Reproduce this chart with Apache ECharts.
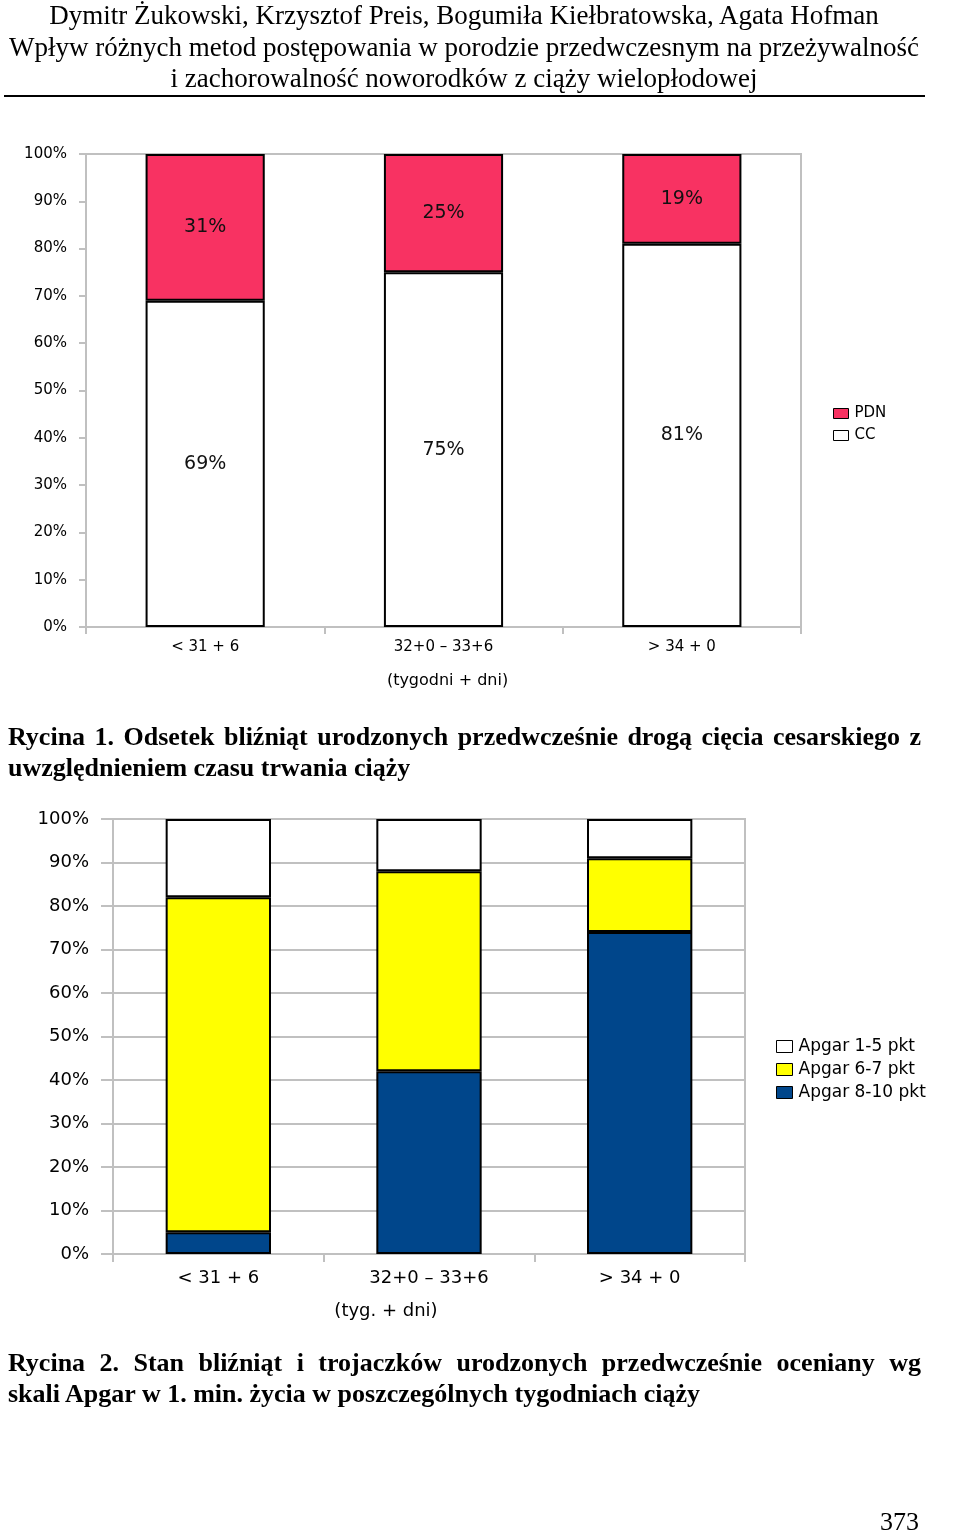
<!DOCTYPE html>
<html>
<head>
<meta charset="utf-8">
<script src="https://cdn.jsdelivr.net/npm/echarts@6.0.0/dist/echarts.min.js"></script>
<style>
  body { margin: 0; background: #fff; }
  #page { position: relative; width: 960px; height: 1538px; overflow: hidden; }
  #chart { position: absolute; left: 0; top: 0; width: 960px; height: 1538px; }
  .txt { position: absolute; font-family: "Liberation Serif", "Times New Roman", serif; color: #000; white-space: nowrap; }
  .head { left: 0; top: 0; width: 928px; text-align: center; font-size: 27px; line-height: 31.5px; }
  .rule { position: absolute; left: 4px; top: 95px; width: 921px; height: 2px; background: #000; }
  .cap { left: 8px; width: 913px; font-weight: bold; font-size: 26px; line-height: 31px; }
  .just { text-align: justify; text-align-last: justify; }
  .pnum { left: 880px; top: 1507px; font-size: 26px; }
</style>
</head>
<body>
<div id="page">
  <div id="chart"></div>
  <div class="txt head">Dymitr Żukowski, Krzysztof Preis, Bogumiła Kiełbratowska, Agata Hofman<br>Wpływ różnych metod postępowania w porodzie przedwczesnym na przeżywalność<br>i zachorowalność noworodków z ciąży wielopłodowej</div>
  <div class="rule"></div>
  <div class="txt cap just" style="top:721px">Rycina 1. Odsetek bliźniąt urodzonych przedwcześnie drogą cięcia cesarskiego z</div>
  <div class="txt cap" style="top:752px">uwzględnieniem czasu trwania ciąży</div>
  <div class="txt cap just" style="top:1347px">Rycina 2. Stan bliźniąt i trojaczków urodzonych przedwcześnie oceniany wg</div>
  <div class="txt cap" style="top:1378px">skali Apgar w 1. min. życia w poszczególnych tygodniach ciąży</div>
  <div class="txt pnum">373</div>
</div>
<script>
// data
const categories = ['< 31 + 6', '32+0 – 33+6', '> 34 + 0'];
const ccValues = [69, 75, 81];
const pdnValues = [31, 25, 19];
const apgar810 = [5, 42, 74];
const apgar67 = [77, 46, 17];
const apgar15 = [18, 12, 9];

const myChart = echarts.init(document.getElementById('chart'));
const font = 'DejaVu Sans';
const gray = '#c0c0c0';

const option = {
  animation: false,
  grid: [
    { left: 86, top: 154, width: 715, height: 473, show: true, borderColor: gray, borderWidth: 2 },
    { left: 113, top: 819, width: 632, height: 435, show: true, borderColor: gray, borderWidth: 2 }
  ],
  legend: [
    {
      data: ['PDN', 'CC'],
      orient: 'vertical', left: 828, top: 401,
      itemWidth: 15, itemHeight: 10, itemGap: 7,
      icon: 'rect',
      itemStyle: { borderColor: '#000', borderWidth: 1 },
      textStyle: { fontFamily: font, fontSize: 15, color: '#000', padding: [0, 0, 0, 1] }
    },
    {
      data: ['Apgar 1-5 pkt', 'Apgar 6-7 pkt', 'Apgar 8-10 pkt'],
      orient: 'vertical', left: 771, top: 1033,
      itemWidth: 16, itemHeight: 12, itemGap: 6,
      icon: 'rect',
      itemStyle: { borderColor: '#000', borderWidth: 1 },
      textStyle: { fontFamily: font, fontSize: 17, color: '#000', padding: [0, 0, 0, 1] }
    }
  ],
  xAxis: [
    {
      gridIndex: 0, type: 'category', data: categories,
      axisLine: { lineStyle: { color: gray, width: 2 } },
      axisTick: { show: true, length: 7, lineStyle: { color: gray, width: 2 } },
      axisLabel: { fontFamily: font, fontSize: 15, color: '#000', margin: 13 },
      name: '(tygodni + dni)', nameLocation: 'middle', nameGap: 46,
      nameTextStyle: { fontFamily: font, fontSize: 16, color: '#000', padding: [0, 0, 0, 8] }
    },
    {
      gridIndex: 1, type: 'category', data: categories,
      axisLine: { lineStyle: { color: gray, width: 2 } },
      axisTick: { show: true, length: 8, lineStyle: { color: gray, width: 2 } },
      axisLabel: { fontFamily: font, fontSize: 18, color: '#000', margin: 15 },
      name: '(tyg. + dni)', nameLocation: 'middle', nameGap: 48,
      nameTextStyle: { fontFamily: font, fontSize: 18, color: '#000', padding: [0, 86, 0, 0] }
    }
  ],
  yAxis: [
    {
      gridIndex: 0, type: 'value', min: 0, max: 100, interval: 10,
      axisLine: { show: true, lineStyle: { color: gray, width: 2 } },
      axisTick: { show: true, length: 7, lineStyle: { color: gray, width: 2 } },
      splitLine: { show: false },
      axisLabel: { fontFamily: font, fontSize: 15, color: '#000', margin: 19, formatter: '{value}%' }
    },
    {
      gridIndex: 1, type: 'value', min: 0, max: 100, interval: 10,
      axisLine: { show: true, lineStyle: { color: gray, width: 2 } },
      axisTick: { show: true, length: 12, lineStyle: { color: gray, width: 2 } },
      splitLine: { show: true, lineStyle: { color: gray, width: 2 } },
      axisLabel: { fontFamily: font, fontSize: 18, color: '#000', margin: 24, formatter: '{value}%' }
    }
  ],
  series: [
    {
      name: 'CC', type: 'bar', stack: 'a', xAxisIndex: 0, yAxisIndex: 0,
      data: ccValues, barWidth: '50%',
      itemStyle: { color: '#fff', borderColor: '#000', borderWidth: 2 },
      label: { show: true, position: 'inside', formatter: '{c}%', fontFamily: font, fontSize: 19, color: '#111' }
    },
    {
      name: 'PDN', type: 'bar', stack: 'a', xAxisIndex: 0, yAxisIndex: 0,
      data: pdnValues, barWidth: '50%',
      itemStyle: { color: '#f83262', borderColor: '#000', borderWidth: 2 },
      label: { show: true, position: 'inside', formatter: '{c}%', fontFamily: font, fontSize: 19, color: '#111' }
    },
    {
      name: 'Apgar 8-10 pkt', type: 'bar', stack: 'b', xAxisIndex: 1, yAxisIndex: 1,
      data: apgar810, barWidth: '50%',
      itemStyle: { color: '#00468b', borderColor: '#000', borderWidth: 2 }
    },
    {
      name: 'Apgar 6-7 pkt', type: 'bar', stack: 'b', xAxisIndex: 1, yAxisIndex: 1,
      data: apgar67, barWidth: '50%',
      itemStyle: { color: '#ffff00', borderColor: '#000', borderWidth: 2 }
    },
    {
      name: 'Apgar 1-5 pkt', type: 'bar', stack: 'b', xAxisIndex: 1, yAxisIndex: 1,
      data: apgar15, barWidth: '50%',
      itemStyle: { color: '#fff', borderColor: '#000', borderWidth: 2 }
    }
  ]
};

myChart.setOption(option);
</script>
</body>
</html>
